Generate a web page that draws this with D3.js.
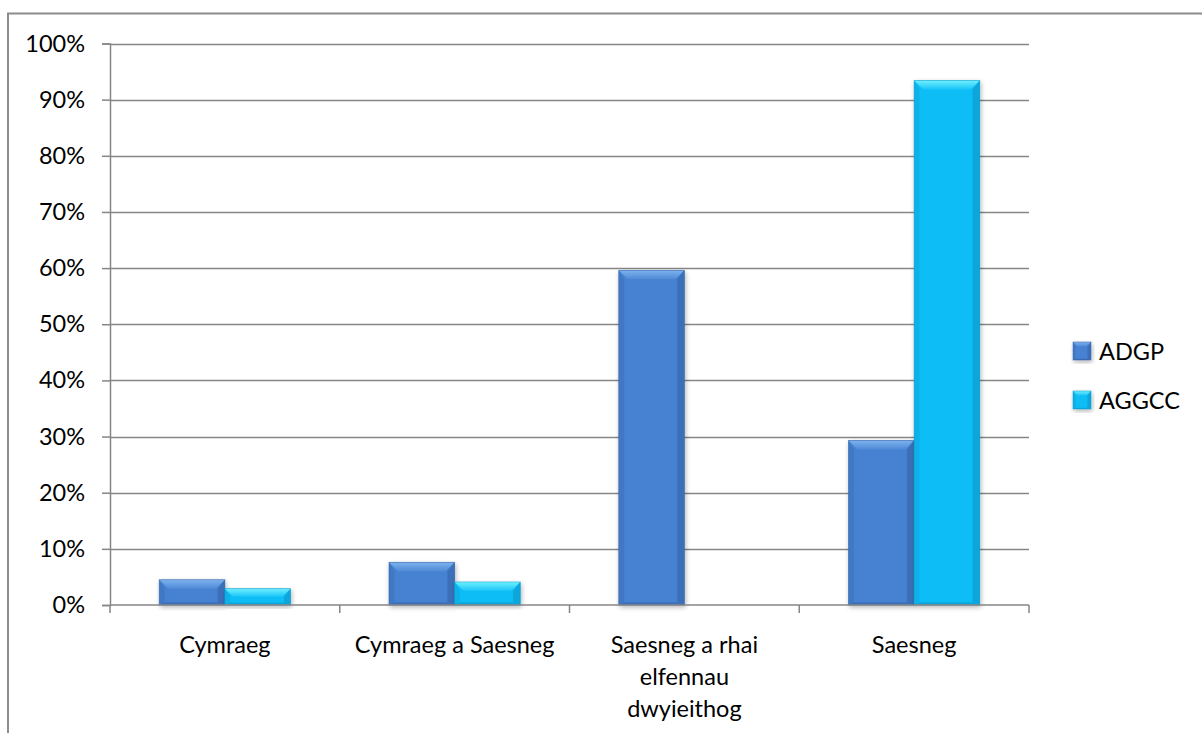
<!DOCTYPE html>
<html><head><meta charset="utf-8">
<script src="https://cdn.jsdelivr.net/npm/d3@7/dist/d3.min.js"></script>
<style>body{margin:0;background:#fff}svg{display:block}text{font-family:Lato,"Open Sans",sans-serif;fill:#000}</style>
</head><body>
<script>
const categories = [["Cymraeg"],["Cymraeg a Saesneg"],["Saesneg a rhai","elfennau","dwyieithog"],["Saesneg"]];
const seriesNames = ["ADGP","AGGCC"];
const adgp = [0.045, 0.076, 0.596, 0.293];
const aggcc = [0.029, 0.041, 0, 0.934];
const yTicks = [0,0.1,0.2,0.3,0.4,0.5,0.6,0.7,0.8,0.9,1.0];

const W=1202,H=733,FS=23.5;
const svg=d3.select("body").append("svg").attr("width",W).attr("height",H);
const m={l:110,r:1029,t:43.5,b:605};
const x=d3.scaleBand().domain(d3.range(categories.length)).range([m.l,m.r]).paddingInner(0).paddingOuter(0);
const xs=d3.scaleBand().domain(seriesNames).range([0,x.bandwidth()]).paddingInner(0).paddingOuter(0.75);
const y=d3.scaleLinear().domain([0,1]).range([m.b,m.t]);

svg.append("rect").attr("x",8).attr("y",13.5).attr("width",1210).attr("height",740)
 .attr("fill","none").attr("stroke","#8c8c8c").attr("stroke-width",2);

const defs=svg.append("defs");
const f=defs.append("filter").attr("id","sh").attr("x","-20%").attr("y","-20%").attr("width","140%").attr("height","140%");
f.append("feGaussianBlur").attr("in","SourceAlpha").attr("stdDeviation",2.5);
f.append("feOffset").attr("dx",1).attr("dy",2).attr("result","b");
f.append("feComponentTransfer").append("feFuncA").attr("type","linear").attr("slope",0.3);
const mg=f.append("feMerge");mg.append("feMergeNode");mg.append("feMergeNode").attr("in","SourceGraphic");
function grad(id,stops){const g=defs.append("linearGradient").attr("id",id).attr("x1",0).attr("y1",0).attr("x2",0).attr("y2",1);
 stops.forEach(s=>g.append("stop").attr("offset",s[0]).attr("stop-color",s[1]));}
grad("topA",[[0,"#7db2ee"],[1,"#4f8ad6"]]);
grad("topB",[[0,"#6ef0ff"],[1,"#19c4f7"]]);

svg.append("g").selectAll("line").data(yTicks.slice(1)).join("line")
 .attr("x1",m.l).attr("x2",m.r).attr("y1",d=>Math.round(y(d))+0.5).attr("y2",d=>Math.round(y(d))+0.5)
 .attr("stroke","#868686").attr("stroke-width",1.5);

const ya=svg.append("g").attr("transform",`translate(${m.l},0)`)
 .call(d3.axisLeft(y).tickValues(yTicks).tickFormat(d3.format(".0%")).tickSize(8).tickPadding(17));
ya.select(".domain").attr("stroke","#868686").attr("stroke-width",1.5);
ya.selectAll(".tick line").attr("stroke","#868686").attr("stroke-width",1.5);
ya.selectAll("text").attr("font-size",FS).style("font-family","Lato,'Open Sans',sans-serif");

const palettes={
 ADGP:{main:"#4682d2",top:"url(#topA)",side:"#3a6db5",bot:"#3563a6"},
 AGGCC:{main:"#0dbdf6",top:"url(#topB)",side:"#0aa2d6",bot:"#0a98c8"}
};
function bar(g,x0,w,y0,y1,p){
 const h=y1-y0; if(h<=0.5) return;
 const b=Math.min(9,h/2,w/4);
 const gg=g.append("g").attr("filter","url(#sh)");
 gg.append("rect").attr("x",x0).attr("y",y0).attr("width",w).attr("height",h).attr("fill",p.main);
 gg.append("polygon").attr("points",[[x0,y0],[x0+w,y0],[x0+w-b,y0+b],[x0+b,y0+b]].join(" ")).attr("fill",p.top);
 gg.append("polygon").attr("points",[[x0,y0],[x0+b*0.6,y0+b],[x0+b*0.6,y1-b*0.3],[x0,y1]].join(" ")).attr("fill",p.side).attr("opacity",0.45);
 gg.append("polygon").attr("points",[[x0+w,y0],[x0+w-b*0.8,y0+b],[x0+w-b*0.8,y1-b*0.3],[x0+w,y1]].join(" ")).attr("fill",p.side).attr("opacity",0.85);
 gg.append("polygon").attr("points",[[x0,y1],[x0+b*0.6,y1-b*0.3],[x0+w-b*0.8,y1-b*0.3],[x0+w,y1]].join(" ")).attr("fill",p.bot).attr("opacity",0.6);
 gg.append("rect").attr("x",x0).attr("y",y0).attr("width",w).attr("height",h).attr("fill","none").attr("stroke",p.bot).attr("stroke-width",0.8).attr("opacity",0.6);
}
const bars=svg.append("g");
[adgp,aggcc].forEach((vals,si)=>{
 const name=seriesNames[si];
 vals.forEach((v,i)=>{ bar(bars,x(i)+xs(name),xs.bandwidth(),y(v),y(0),palettes[name]); });
});

const xa=svg.append("g").attr("transform",`translate(0,${m.b})`);
xa.append("line").attr("x1",m.l).attr("x2",m.r).attr("stroke","#868686").attr("stroke-width",1.5);
xa.selectAll(".tk").data(d3.range(categories.length+1)).join("line")
 .attr("x1",d=>d<categories.length?x(d):m.r).attr("x2",d=>d<categories.length?x(d):m.r)
 .attr("y1",0).attr("y2",8).attr("stroke","#868686").attr("stroke-width",1.5);
xa.selectAll(".lab").data(categories).join("text")
 .attr("text-anchor","middle").attr("font-size",FS)
 .attr("transform",(d,i)=>`translate(${x(i)+x.bandwidth()/2},0)`)
 .each(function(d){
   d3.select(this).selectAll("tspan").data(d).join("tspan").attr("x",0).attr("y",(t,j)=>48+j*32).text(t=>t);
 });

const lg=svg.append("g");
seriesNames.forEach((n,i)=>{
 const ly=342+i*49;
 bar(lg,1073,18,ly,ly+18,palettes[n]);
 lg.append("text").attr("x",1099).attr("y",ly+18).attr("font-size",FS).text(n);
});
</script>
</body></html>
